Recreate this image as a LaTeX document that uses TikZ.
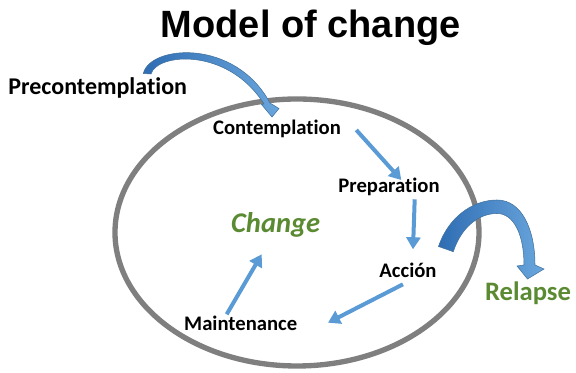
\documentclass[tikz,border=0pt]{standalone}
\usepackage{fontspec}
\setmainfont[RawFeature={-liga}]{Carlito}
\newfontfamily\titlefont{Liberation Sans}
\usetikzlibrary{arrows.meta,calc}
\definecolor{ringgray}{HTML}{7F7F7F}
\definecolor{flowblue}{HTML}{5B9BD5}
\definecolor{bendlight}{HTML}{6AA6DD}
\definecolor{benddark}{HTML}{2F6DB3}
\definecolor{bendedge}{HTML}{41719C}
\definecolor{stagegreen}{HTML}{5A8A32}

\begin{document}
\begin{tikzpicture}[x=0.75pt,y=-0.75pt,
  stage/.style={font=\bfseries\fontsize{15.5pt}{18pt}\selectfont, inner sep=0pt, anchor=base},
  key/.style={text=stagegreen, inner sep=0pt, anchor=base},
  flow/.style={draw=flowblue, line width=3pt, -{Triangle[length=9pt,width=10.5pt]}},
  bentarrow/.style={left color=benddark, right color=bendlight, draw=bendedge, line width=0.4pt}]
\useasboundingbox (0,0) rectangle (576,373);

% the cycle of change
\draw[ringgray, line width=4pt] (297,232.5) ellipse [x radius=182, y radius=133.5];

% title
\node[anchor=base, inner sep=0pt, font=\titlefont\bfseries\fontsize{28.5pt}{32pt}\selectfont]
  (title) at (310.8,37.3) {Model of change};

% stages
\node[stage, font=\bfseries\fontsize{18pt}{21pt}\selectfont] (precon) at (97.7,94.3) {Precontemplation};
\node[stage] (contemp) at (277,135) {Contemplation};
\node[stage] (prep) at (389,192.5) {Preparation};
\node[stage] (accion) at (408,277.7) {Acción};
\node[stage] (maint) at (240.7,331) {Maintenance};
\node[key, font=\bfseries\itshape\fontsize{21.4pt}{25pt}\selectfont] (change) at (275.7,232.7) {Change};
\node[key, font=\bfseries\fontsize{20pt}{24pt}\selectfont] (relapse) at (528,301) {Relapse};

% steps inside the cycle
\draw[flow] ($(contemp.base)+(79.3,-5)$) -- ($(prep.base)+(12.3,-12.5)$);
\draw[flow] ($(prep.base)+(25.7,6.8)$) -- ($(accion.base)+(5,-28.4)$);
\draw[flow] ($(accion.base)+(-5,6.6)$) -- ($(maint.base)+(87.3,-8.3)$);
\draw[flow] ($(maint.base)+(-14,-16.7)$) -- ($(change.base)+(-14,21.6)$);

% entering the cycle: Precontemplation -> Contemplation
\shadedraw[bentarrow] (143.3,73.5) .. controls (150,45) and (235,38) .. (270,103)
  -- (279,108.5) -- (272,117) -- (261.5,104.5) -- (264,104)
  .. controls (228,47) and (157,53) .. (151,74) -- cycle;

% leaving the cycle: Acción -> Relapse
\shadedraw[bentarrow] (438.5,246.5) .. controls (448,218) and (472,200) .. (497,200)
  .. controls (522,200) and (535,230) .. (535,265)
  -- (544,269) -- (527.5,279) -- (517,266) -- (524,265)
  .. controls (524,235) and (514,213.5) .. (497,213.5)
  .. controls (478,213.5) and (461,228) .. (453.3,251.7) -- cycle;
\end{tikzpicture}
\end{document}
